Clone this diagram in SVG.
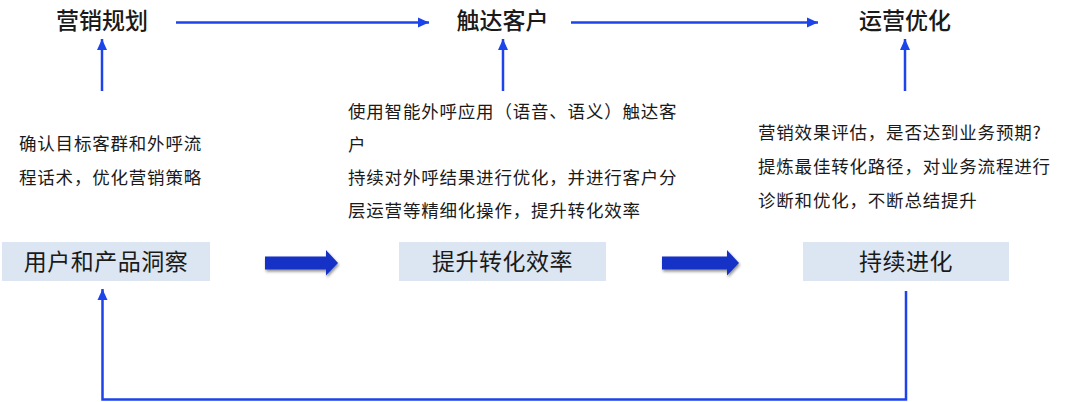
<svg xmlns="http://www.w3.org/2000/svg" width="1080" height="402" viewBox="0 0 1080 402">
<defs>
<style>
text{font-family:"Noto Sans CJK SC","Noto Sans",sans-serif;fill:#1a1a1a}
.title{font-size:23px;font-weight:500;text-anchor:middle}
.box{fill:#dce6f2}
.boxt{font-size:23px;text-anchor:middle;letter-spacing:0.5px}
.desc{font-size:17.5px;letter-spacing:0.8px}
.thin{stroke:#1d44ea;stroke-width:2.5;fill:none}
.block{fill:#1533c6;filter:url(#sh)}
</style>
<marker id="ah" markerUnits="userSpaceOnUse" markerWidth="12" markerHeight="12" viewBox="0 0 12 12" refX="11" refY="6" orient="auto">
<path d="M0,1 L11,6 L0,11 Z" fill="#1d44ea"/>
</marker>
<filter id="sh" x="-20%" y="-40%" width="140%" height="180%">
<feGaussianBlur in="SourceAlpha" stdDeviation="1.5"/>
<feOffset dx="1" dy="2" result="b"/>
<feComponentTransfer><feFuncA type="linear" slope="0.45"/></feComponentTransfer>
<feMerge><feMergeNode/><feMergeNode in="SourceGraphic"/></feMerge>
</filter>
</defs>
<rect width="1080" height="402" fill="#ffffff"/>

<g id="title-plan"><text class="title" x="102" y="29">营销规划</text></g>
<g id="title-reach"><text class="title" x="502.5" y="29">触达客户</text></g>
<g id="title-ops"><text class="title" x="905" y="29">运营优化</text></g>

<g id="desc-left">
<text class="desc" x="19" y="150">确认目标客群和外呼流</text>
<text class="desc" x="19" y="184">程话术，优化营销策略</text>
</g>
<g id="desc-mid">
<text class="desc" x="348" y="118">使用智能外呼应用（语音、语义）触达客</text>
<text class="desc" x="348" y="151">户</text>
<text class="desc" x="348" y="184">持续对外呼结果进行优化，并进行客户分</text>
<text class="desc" x="348" y="217">层运营等精细化操作，提升转化效率</text>
</g>
<g id="desc-right">
<text class="desc" x="758" y="139">营销效果评估，是否达到业务预期?</text>
<text class="desc" x="758" y="173">提炼最佳转化路径，对业务流程进行</text>
<text class="desc" x="758" y="207">诊断和优化，不断总结提升</text>
</g>

<g id="node-insight">
<rect class="box" x="2" y="242" width="208" height="39"/>
<text class="boxt" x="106" y="270">用户和产品洞察</text>
</g>
<g id="node-convert">
<rect class="box" x="399" y="242" width="207" height="39"/>
<text class="boxt" x="502.5" y="270">提升转化效率</text>
</g>
<g id="node-evolve">
<rect class="box" x="803" y="242" width="206" height="39"/>
<text class="boxt" x="906" y="270">持续进化</text>
</g>

<g id="connectors">
<line class="thin" x1="176" y1="22.5" x2="429" y2="22.5" marker-end="url(#ah)"/>
<line class="thin" x1="571" y1="22.5" x2="818" y2="22.5" marker-end="url(#ah)"/>
<line class="thin" x1="102" y1="91" x2="102" y2="39" marker-end="url(#ah)"/>
<line class="thin" x1="503" y1="91" x2="503" y2="39" marker-end="url(#ah)"/>
<line class="thin" x1="905" y1="91" x2="905" y2="39" marker-end="url(#ah)"/>
<polyline class="thin" points="906,291 906,399.5 102.5,399.5 102.5,289" marker-end="url(#ah)"/>
<path class="block" d="M265,256.5 H326 V250 L338,263 L326,275.5 V269.5 H265 Z"/>
<path class="block" d="M662,256.5 H727 V250 L739,263 L727,275.5 V269.5 H662 Z"/>
</g>
</svg>
